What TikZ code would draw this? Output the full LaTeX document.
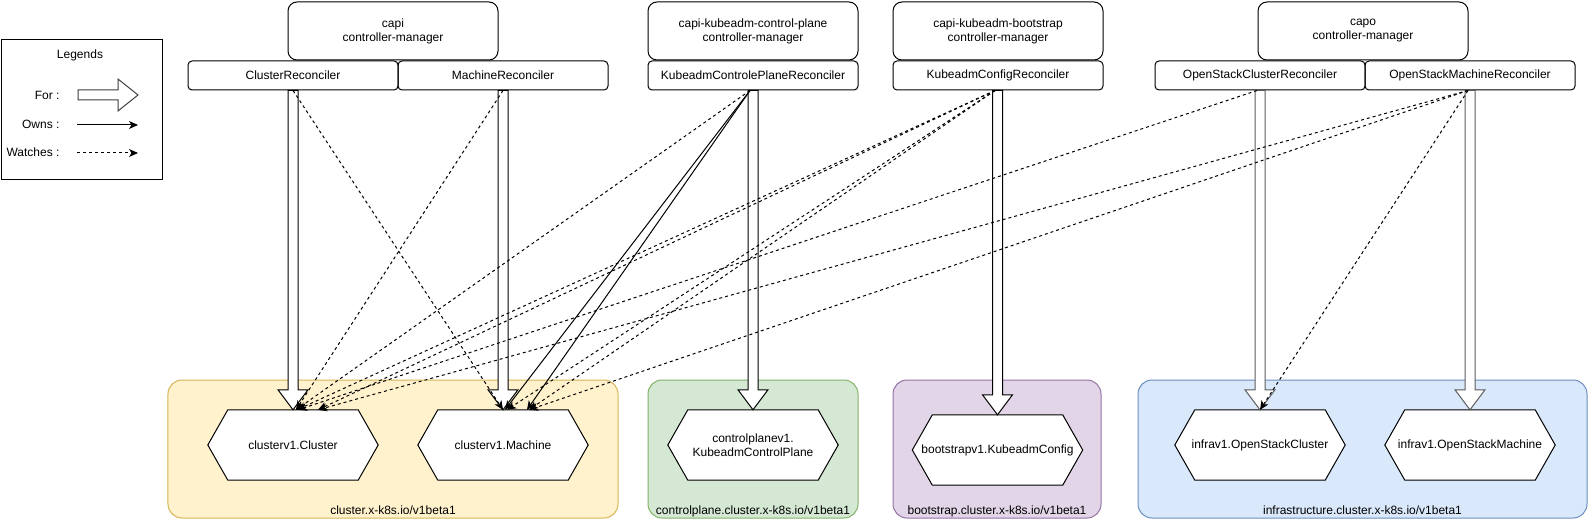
\documentclass[tikz,border=0pt]{standalone}
\usepackage{fontspec}
\setmainfont{Liberation Sans}
\usetikzlibrary{arrows.meta,calc}
\pgfdeclarelayer{groups}
\pgfdeclarelayer{shapes}
\pgfsetlayers{groups,shapes,main}
\definecolor{ylwF}{HTML}{FFF2CC}\definecolor{ylwD}{HTML}{D6B656}
\definecolor{grnF}{HTML}{D5E8D4}\definecolor{grnD}{HTML}{82B366}
\definecolor{purF}{HTML}{E1D5E7}\definecolor{purD}{HTML}{9673A6}
\definecolor{bluF}{HTML}{DAE8FC}\definecolor{bluD}{HTML}{6C8EBF}
\definecolor{osgray}{HTML}{5C5C5C}
\definecolor{leggray}{HTML}{3C3C3C}
\newcommand\hexpath[1]{\begin{pgfonlayer}{shapes}\draw[line width=1bp, fill=white] (#1.west) -- ($(#1.north west)+(20,0)$) -- ($(#1.north east)+(-20,0)$) -- (#1.east) -- ($(#1.south east)+(-20,0)$) -- ($(#1.south west)+(20,0)$) -- cycle;\end{pgfonlayer}}
\newcommand\forarrow[3][black]{\draw[line width=1bp, draw=#1, fill=white] let \p1=(#2.south), \p2=(#3.north) in (\x2-5bp,\y1) -- (\x2-5bp,\y2+20bp) -- (\x2-15bp,\y2+20bp) -- (\x2,\y2) -- (\x2+15bp,\y2+20bp) -- (\x2+5bp,\y2+20bp) -- (\x2+5bp,\y1) -- cycle;}
\begin{document}
\begin{tikzpicture}[x=1bp,y=-1bp, font=\fontsize{12bp}{14bp}\selectfont,
  mgr/.style={draw, line width=1bp, rounded corners=9bp, minimum width=210bp, minimum height=58bp, align=center, inner sep=0},
  rec/.style={draw, line width=1bp, rounded corners=4bp, minimum width=210bp, minimum height=29bp, inner sep=0},
  hexnode/.style={minimum width=170bp, minimum height=70bp, inner sep=0, align=center},
  grp/.style={line width=1bp, rounded corners=14bp, minimum height=138bp, inner sep=0},
  owns/.style={line width=1bp, -{Stealth[length=9bp,width=8bp,inset=2.5bp]}},
  watch/.style={owns, dash pattern=on 3bp off 3bp}]
\useasboundingbox (0,0) rectangle (1589,521);
\begin{pgfonlayer}{groups}
\fill[white] (0,0) rectangle (1589,521);
\node[grp, draw=ylwD, fill=ylwF, minimum width=450bp] (gcl) at (393,449) {};
\node[grp, draw=grnD, fill=grnF, minimum width=210bp] (gcp) at (753,449) {};
\node[grp, draw=purD, fill=purF, minimum width=208bp] (gbs) at (997,449) {};
\node[grp, draw=bluD, fill=bluF, minimum width=449bp] (gin) at (1362.5,449) {};
\end{pgfonlayer}
\node[anchor=base] (lcl) at ($(gcl.south)+(0,-4)$) {cluster.x-k8s.io/v1beta1};
\node[anchor=base] (lcp) at ($(gcp.south)+(0,-4)$) {controlplane.cluster.x-k8s.io/v1beta1};
\node[anchor=base] (lbs) at ($(gbs.south)+(0,-4)$) {bootstrap.cluster.x-k8s.io/v1beta1};
\node[anchor=base] (lin) at ($(gin.south)+(0,-4)$) {infrastructure.cluster.x-k8s.io/v1beta1};
% legend
\node[draw, line width=1bp, minimum width=160bp, minimum height=140bp, inner sep=0] (leg) at (82,110) {};
\node[anchor=base] (legt) at (80,59) {Legends};
\node[anchor=base east] (lfor) at (63,100) {For :};
\node[anchor=base east] (lown) at (63,129) {Owns :};
\node[anchor=base east] (lwat) at (63,157) {Watches :};
\draw[line width=1bp, draw=leggray, fill=white] (78,90) -- (118,90) -- (118,79) -- (138,95) -- (118,111) -- (118,100) -- (78,100) -- cycle;
\coordinate (o1) at (77,125); \coordinate (o2) at (138,125);
\coordinate (w1) at (77,153); \coordinate (w2) at (138,153);
\draw[owns] (o1) -- (o2);
\draw[watch] (w1) -- (w2);
% managers
\node[mgr] (capi) at (393,31) {capi\\controller-manager};
\node[mgr] (kcpm) at (753,31) {capi-kubeadm-control-plane\\controller-manager};
\node[mgr] (kcm) at (998,31) {capi-kubeadm-bootstrap\\controller-manager};
\node[mgr] (capo) at (1363,31) {capo\\controller-manager};
% reconcilers
\node[rec] (cr) at (293,75.5) {ClusterReconciler};
\node[rec] (mr) at (503,75.5) {MachineReconciler};
\node[rec] (kcpr) at (753,75.5) {KubeadmControlePlaneReconciler};
\node[rec] (kcr) at (998,75.5) {KubeadmConfigReconciler};
\node[rec] (oscr) at (1260,75.5) {OpenStackClusterReconciler};
\node[rec] (osmr) at (1470,75.5) {OpenStackMachineReconciler};
% resources
\node[hexnode] (hcl) at (293,445) {clusterv1.Cluster};
\node[hexnode] (hma) at (503,445) {clusterv1.Machine};
\node[hexnode] (hkcp) at (753,445) {controlplanev1.\\KubeadmControlPlane};
\node[hexnode] (hbs) at (997.5,450) {bootstrapv1.KubeadmConfig};
\node[hexnode] (hosc) at (1260,445) {infrav1.OpenStackCluster};
\node[hexnode] (hosm) at (1470,445) {infrav1.OpenStackMachine};
\hexpath{hcl}\hexpath{hma}\hexpath{hkcp}\hexpath{hbs}\hexpath{hosc}\hexpath{hosm}
% For arrows
\forarrow{cr}{hcl}
\forarrow{mr}{hma}
\forarrow{kcpr}{hkcp}
\forarrow{kcr}{hbs}
\forarrow[osgray]{oscr}{hosc}
\forarrow[osgray]{osmr}{hosm}
% watches / owns
\draw[watch] (cr.south) -- ($(hma.north)+(0,0)$);
\draw[watch] (mr.south) -- ($(hcl.north)+(3,0)$);
\draw[watch] ($(kcpr.south)+(-3,0)$) -- ($(hcl.north)+(3,0)$);
\draw[owns] ($(kcpr.south)+(-3,0)$) -- ($(hma.north)+(2,0)$);
\draw[owns] ($(kcpr.south)+(-3,0)$) -- ($(hma.north)+(24,0)$);
\draw[watch] ($(kcr.south)+(-3,0)$) -- ($(hcl.north)+(4,0)$);
\draw[watch] ($(kcr.south)+(-3,0)$) -- ($(hcl.north)+(25,0)$);
\draw[watch] ($(kcr.south)+(-3,0)$) -- ($(hma.north)+(4,0)$);
\draw[watch] ($(kcr.south)+(-3,0)$) -- ($(hma.north)+(26,0)$);
\draw[watch] ($(oscr.south)+(-3,0)$) -- ($(hcl.north)+(5,0)$);
\draw[watch] ($(osmr.south)+(-2,0)$) -- ($(hcl.north)+(25,0)$);
\draw[watch] ($(osmr.south)+(-2,0)$) -- ($(hma.north)+(26,0)$);
\draw[watch] ($(osmr.south)+(-2,0)$) -- (hosc.north);
\end{tikzpicture}
\end{document}
